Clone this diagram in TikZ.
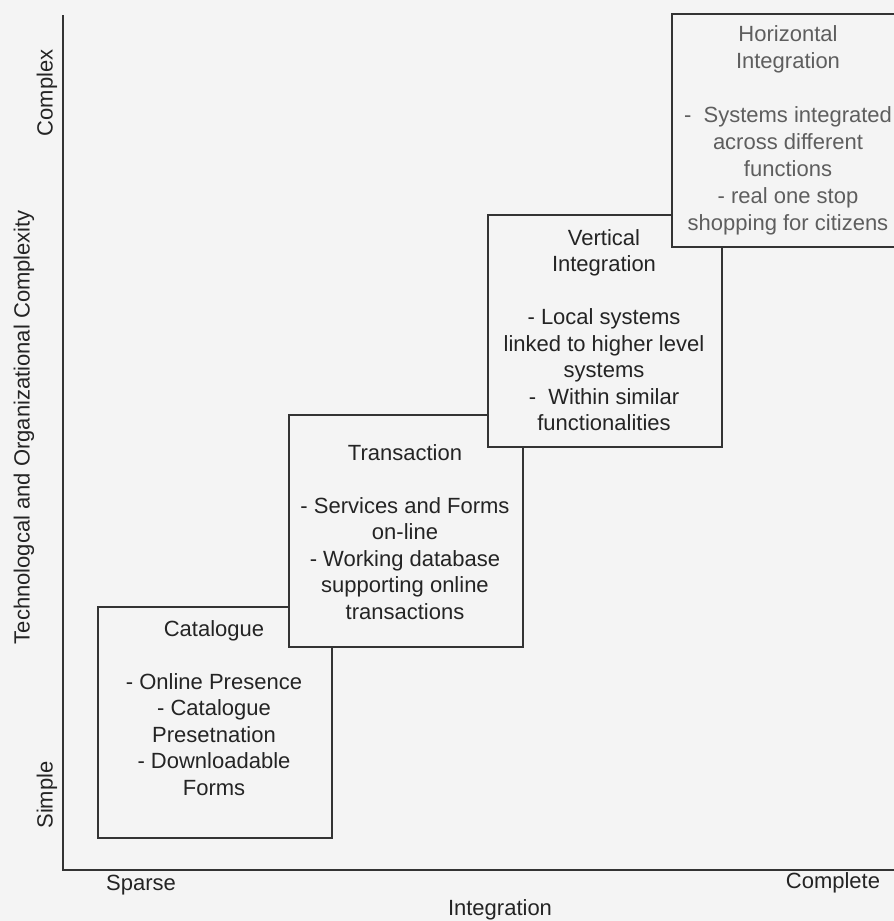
\documentclass[tikz,border=0pt]{standalone}
\usepackage{fontspec}
\setmainfont{Liberation Sans}
\definecolor{bg}{HTML}{F4F4F4}
\definecolor{ink}{HTML}{242424}
\definecolor{lineink}{HTML}{333333}
\definecolor{lightink}{HTML}{5E5E5E}
\begin{document}
\begin{tikzpicture}[x=1pt,y=-1pt,
  panel/.style={draw=lineink, line width=1.8pt, fill=bg, rectangle, anchor=north west, inner sep=0pt},
  txt/.style={text=ink, align=center, inner sep=0pt, anchor=north, font=\fontsize{22}{26.5}\selectfont},
  axlabel/.style={text=ink, inner sep=0pt, font=\fontsize{22}{26.5}\selectfont}]
\useasboundingbox (0,0) rectangle (894,921);
\clip (0,0) rectangle (894,921);
\fill[bg] (0,0) rectangle (894,921);

% axes
\coordinate (ytop) at (63,15);
\coordinate (origin) at (63,870);
\coordinate (xend) at (900,870);
\draw[lineink, line width=1.8pt] (ytop) -- (origin) -- (xend);

% axis labels
\node[axlabel, rotate=90] (complex) at (47,93) {Complex};
\node[axlabel, rotate=90] (simple) at (47,795) {Simple};
\node[axlabel, rotate=90] (ylab) at (24,427) {Technologcal and Organizational Complexity};
\node[axlabel] (sparse) at (141,885) {Sparse};
\node[axlabel] (complete) at (833,883) {Complete};
\node[axlabel] (xlab) at (500,910) {Integration};

% boxes
\node[panel, minimum width=234pt, minimum height=231pt] (catbox) at (97,606) {};
\node[txt] (cattxt) at (214,620) {Catalogue\\[26.5pt]- Online Presence\\- Catalogue\\Presetnation\\- Downloadable\\Forms};

\node[panel, minimum width=234pt, minimum height=232pt] (trbox) at (288,414) {};
\node[txt] (trtxt) at (405,444) {Transaction\\[26.5pt]- Services and Forms\\on-line\\- Working database\\supporting online\\transactions};

\node[panel, minimum width=234pt, minimum height=232pt] (vibox) at (487,214) {};
\node[txt] (vitxt) at (604,229) {Vertical\\Integration\\[26.5pt]- Local systems\\linked to higher level\\systems\\-\ \ Within similar\\functionalities};

\node[panel, minimum width=234pt, minimum height=233pt] (hibox) at (671,13) {};
\node[txt, text=lightink, font=\fontsize{22}{27}\selectfont] (hitxt) at (788,25) {Horizontal\\Integration\\[27pt]-\ \ Systems integrated\\across different\\functions\\- real one stop\\shopping for citizens};
\end{tikzpicture}
\end{document}
